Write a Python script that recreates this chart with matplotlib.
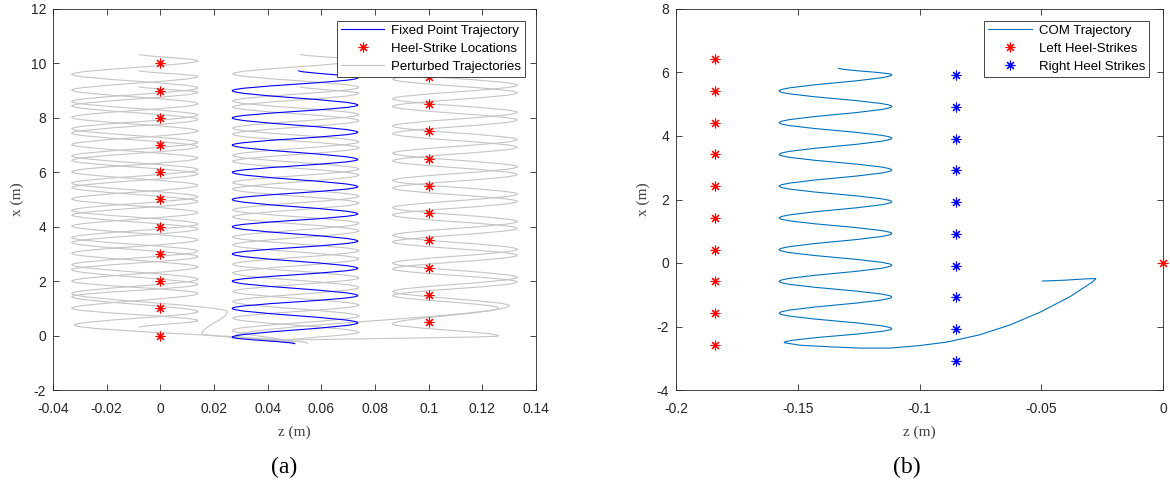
import matplotlib
matplotlib.use("Agg")
import matplotlib.pyplot as plt
from matplotlib.path import Path
from matplotlib.patches import PathPatch
from matplotlib.lines import Line2D

plt.rcParams['font.family'] = ['Liberation Sans', 'DejaVu Sans']
plt.rcParams['axes.unicode_minus'] = False

AX_COLOR = '#262626'
GRAY = '#c4c4c4'
COM_BLUE = '#0072BD'

# ---------------- panel (a): fixed point and perturbed gaits ----------------
heel_z = [0.0, 0.0, 0.0, 0.0, 0.0, 0.0, 0.0, 0.0, 0.0, 0.0, 0.0,
          0.1, 0.1, 0.1, 0.1, 0.1, 0.1, 0.1, 0.1, 0.1, 0.1]
heel_x = [0, 1, 2, 3, 4, 5, 6, 7, 8, 9, 10,
          0.5, 1.5, 2.5, 3.5, 4.5, 5.5, 6.5, 7.5, 8.5, 9.5]

# fixed point trajectory: sway extremes (z) and where they occur (x)
fp_z = [0.0502, 0.0268, 0.0736, 0.0268, 0.0736, 0.0268, 0.0736, 0.0268, 0.0736,
        0.0268, 0.0736, 0.0268, 0.0736, 0.0268, 0.0736, 0.0268, 0.0736, 0.0268,
        0.0736, 0.0268, 0.0736, 0.0514]
fp_x = [-0.31, -0.06, 0.47, 1.0, 1.47, 2.0, 2.47, 3.0, 3.47, 4.0, 4.47, 5.0, 5.47,
        6.0, 6.47, 7.0, 7.47, 8.0, 8.47, 9.0, 9.47, 9.74]

# perturbed trajectories (sway extremes)
pert1_z = [0.050, 0.0155, 0.025, -0.033, 0.014, -0.033, 0.014, -0.033, 0.014,
           -0.033, 0.014, -0.033, 0.014, -0.033, 0.014, -0.033, 0.014, -0.033,
           0.014, -0.033, 0.014, -0.008]
pert1_x = [-0.28, 0.07, 0.88, 1.55, 2.07, 2.6, 3.1, 3.6, 4.1, 4.6, 5.1, 5.6, 6.1,
           6.6, 7.1, 7.6, 8.1, 8.6, 9.1, 9.6, 10.1, 10.34]

pert2_z = [-0.008, 0.014, -0.033, 0.014, -0.033, 0.014, -0.033, 0.014, -0.033,
           0.014, -0.033, 0.014, -0.033, 0.014, -0.033, 0.014, -0.033, 0.014,
           -0.033, 0.014, -0.008]
pert2_x = [0.3, 0.55, 1.0, 1.55, 2.0, 2.52, 3.02, 3.52, 4.02, 4.52, 5.02, 5.52,
           6.02, 6.52, 7.02, 7.52, 8.02, 8.52, 9.02, 9.52, 9.74]

pert3_z = [0.055, -0.032, 0.014, -0.033, 0.014, -0.033, 0.014, -0.033, 0.014,
           -0.033, 0.014, -0.033, 0.014, -0.033, 0.014, -0.033, 0.014, -0.033,
           0.014, -0.008]
pert3_x = [-0.30, 0.39, 0.88, 1.43, 1.88, 2.42, 2.9, 3.42, 3.92, 4.43, 4.93, 5.44,
           5.94, 6.44, 6.94, 7.44, 7.94, 8.44, 8.94, 9.15]

pert4_z = [0.045, 0.074, 0.027, 0.074, 0.027, 0.074, 0.027, 0.074, 0.027, 0.074,
           0.027, 0.074, 0.027, 0.074, 0.027, 0.074, 0.027, 0.074, 0.027, 0.074,
           0.027, 0.074, 0.052]
pert4_x = [-0.22, 0.12, 0.64, 1.12, 1.62, 2.12, 2.62, 3.12, 3.62, 4.12, 4.62, 5.12,
           5.62, 6.12, 6.62, 7.12, 7.62, 8.12, 8.62, 9.12, 9.62, 10.12, 10.34]

pert5_z = [0.050, 0.027, 0.074, 0.027, 0.074, 0.027, 0.074, 0.027, 0.074, 0.027,
           0.074, 0.027, 0.074, 0.027, 0.074, 0.027, 0.074, 0.027, 0.074, 0.052]
pert5_x = [-0.28, 0.2, 0.72, 1.25, 1.77, 2.3, 2.82, 3.33, 3.85, 4.36, 4.87, 5.38,
           5.9, 6.4, 6.9, 7.4, 7.9, 8.4, 8.9, 9.15]

pert6_z = [0.040, 0.126, 0.0866, 0.126, 0.0866, 0.133, 0.0866, 0.133, 0.0866,
           0.133, 0.0866, 0.133, 0.0866, 0.133, 0.0866, 0.133, 0.0866, 0.133,
           0.0866, 0.133, 0.0866, 0.133, 0.110]
pert6_x = [-0.2, -0.015, 0.43, 1.02, 1.47, 1.97, 2.45, 2.95, 3.44, 3.94, 4.43, 4.93,
           5.42, 5.92, 6.42, 6.92, 7.42, 7.92, 8.42, 8.92, 9.42, 9.92, 10.15]

pert7_z = [0.050, 0.028, 0.130, 0.0866, 0.133, 0.0866, 0.133, 0.0866, 0.133,
           0.0866, 0.133, 0.0866, 0.133, 0.0866, 0.133, 0.0866, 0.133, 0.0866,
           0.133, 0.0866, 0.133, 0.110]
pert7_x = [-0.27, -0.02, 1.1, 1.62, 2.14, 2.66, 3.17, 3.68, 4.19, 4.7, 5.2, 5.7,
           6.2, 6.7, 7.2, 7.7, 8.2, 8.7, 9.2, 9.7, 10.2, 10.4]

a_xticks = [-0.04, -0.02, 0, 0.02, 0.04, 0.06, 0.08, 0.1, 0.12, 0.14]
a_xticklabels = ['-0.04', '-0.02', '0', '0.02', '0.04', '0.06', '0.08', '0.1',
                 '0.12', '0.14']
a_yticks = [-2, 0, 2, 4, 6, 8, 10, 12]

# ---------------- panel (b): centre of mass and heel strikes ----------------
left_hs_z = [-0.184, -0.184, -0.184, -0.184, -0.184, -0.184, -0.184, -0.184,
             -0.184, -0.184, 0.0]
left_hs_x = [6.42, 5.42, 4.42, 3.42, 2.42, 1.42, 0.42, -0.58, -1.58, -2.58, 0.0]
right_hs_z = [-0.085, -0.085, -0.085, -0.085, -0.085, -0.085, -0.085, -0.085,
              -0.085, -0.085]
right_hs_x = [5.92, 4.92, 3.92, 2.92, 1.92, 0.92, -0.08, -1.08, -2.08, -3.08]

# initial swing of the COM (traced point by point)
com_hook_z = [-0.0497, -0.040, -0.032, -0.0275, -0.0290, -0.0330, -0.0382,
              -0.0505, -0.0628, -0.0752, -0.0887, -0.0998, -0.1121, -0.1244,
              -0.1368, -0.1490, -0.1556]
com_hook_x = [-0.57, -0.54, -0.50, -0.49, -0.60, -0.80, -1.06, -1.55, -1.95,
              -2.26, -2.49, -2.60, -2.68, -2.68, -2.64, -2.59, -2.51]
# steady sway extremes afterwards
com_peak_z = [-0.1114, -0.1576, -0.1114, -0.1576, -0.1114, -0.1576, -0.1114,
              -0.1576, -0.1114, -0.1576, -0.1114, -0.1576, -0.1114, -0.1576,
              -0.1114, -0.1576, -0.1114, -0.1333]
com_peak_x = [-2.07, -1.58, -1.07, -0.58, -0.07, 0.42, 0.93, 1.42, 1.93, 2.42,
              2.93, 3.42, 3.93, 4.42, 4.93, 5.42, 5.93, 6.14]

b_xticks = [-0.2, -0.15, -0.1, -0.05, 0]
b_xticklabels = ['-0.2', '-0.15', '-0.1', '-0.05', '0']
b_yticks = [-4, -2, 0, 2, 4, 6, 8]


def sway_path(z, x, lead_z=None, lead_x=None):
    """Smooth path through sway extremes (horizontal tangent in z at each)."""
    verts, codes = [], []
    if lead_z is not None:
        verts.append((lead_z[0], lead_x[0]))
        codes.append(Path.MOVETO)
        for zz, xx in zip(lead_z[1:], lead_x[1:]):
            verts.append((zz, xx))
            codes.append(Path.LINETO)
        start = 0
        prev = (lead_z[-1], lead_x[-1])
    else:
        verts.append((z[0], x[0]))
        codes.append(Path.MOVETO)
        start = 1
        prev = (z[0], x[0])
    for zz, xx in zip(z[start:], x[start:]):
        d = xx - prev[1]
        verts += [(prev[0], prev[1] + d / 3.0), (zz, xx - d / 3.0), (zz, xx)]
        codes += [Path.CURVE4] * 3
        prev = (zz, xx)
    return Path(verts, codes)


def style_axes(ax):
    for s in ax.spines.values():
        s.set_color(AX_COLOR)
        s.set_linewidth(0.6)
    ax.tick_params(direction='in', top=True, right=True, length=4, width=0.6,
                   color=AX_COLOR, labelcolor=AX_COLOR, labelsize=10)
    ax.tick_params(axis='x', pad=8.5)
    ax.tick_params(axis='y', pad=5)


def make_legend(ax, handles, labels, anchor):
    leg = ax.legend(handles, labels, loc='upper right', bbox_to_anchor=anchor,
                    borderaxespad=0, fancybox=False, framealpha=1,
                    edgecolor=AX_COLOR, fontsize=9.5, handlelength=3.3,
                    handletextpad=0.5, labelspacing=0.42, borderpad=0.3)
    leg.get_frame().set_linewidth(0.6)
    leg.set_zorder(10)
    return leg


fig = plt.figure(figsize=(11.7, 4.96), dpi=100)
ax1 = fig.add_axes([53 / 1170, 1 - 390 / 496, 483 / 1170, 381 / 496])
ax2 = fig.add_axes([676 / 1170, 1 - 390 / 496, 487 / 1170, 381 / 496])

label_kw = dict(family='Liberation Serif', fontsize=11, color='#404040')

# panel (a)
for pz, px in [(pert1_z, pert1_x), (pert2_z, pert2_x), (pert3_z, pert3_x),
               (pert4_z, pert4_x), (pert5_z, pert5_x), (pert6_z, pert6_x),
               (pert7_z, pert7_x)]:
    ax1.add_patch(PathPatch(sway_path(pz, px), fill=False, edgecolor=GRAY,
                            lw=0.8, zorder=2))
ax1.add_patch(PathPatch(sway_path(fp_z, fp_x), fill=False, edgecolor='#0000ff',
                        lw=0.8, zorder=3))
ax1.plot(heel_z, heel_x, linestyle='none', marker=(8, 2, 0), color='#ff0000',
         markersize=7, markeredgewidth=0.8, zorder=4)

ax1.set_xlim(-0.04, 0.14)
ax1.set_ylim(-2, 12)
ax1.set_xticks(a_xticks)
ax1.set_xticklabels(a_xticklabels)
ax1.set_yticks(a_yticks)
style_axes(ax1)
ax1.set_xlabel('z (m)', labelpad=7, **label_kw)
ax1.set_ylabel('x (m)', labelpad=5, **label_kw)

h1 = [Line2D([], [], color='#0000ff', lw=0.8),
      Line2D([], [], linestyle='none', marker=(8, 2, 0), color='#ff0000',
             markersize=7, markeredgewidth=0.8),
      Line2D([], [], color=GRAY, lw=0.8)]
make_legend(ax1, h1, ['Fixed Point Trajectory', 'Heel-Strike Locations',
                      'Perturbed Trajectories'], (0.977, 0.969))

# panel (b)
ax2.add_patch(PathPatch(sway_path(com_peak_z, com_peak_x, com_hook_z, com_hook_x),
                        fill=False, edgecolor=COM_BLUE, lw=0.8, zorder=2))
ax2.plot(left_hs_z, left_hs_x, linestyle='none', marker=(8, 2, 0),
         color='#ff0000', markersize=7, markeredgewidth=0.8, zorder=4,
         clip_on=False)
ax2.plot(right_hs_z, right_hs_x, linestyle='none', marker=(8, 2, 0),
         color='#0000ff', markersize=7, markeredgewidth=0.8, zorder=4)

ax2.set_xlim(-0.2, 0)
ax2.set_ylim(-4, 8)
ax2.set_xticks(b_xticks)
ax2.set_xticklabels(b_xticklabels)
ax2.set_yticks(b_yticks)
style_axes(ax2)
ax2.set_xlabel('z (m)', labelpad=7, **label_kw)
ax2.set_ylabel('x (m)', labelpad=5, **label_kw)

h2 = [Line2D([], [], color=COM_BLUE, lw=0.8),
      Line2D([], [], linestyle='none', marker=(8, 2, 0), color='#ff0000',
             markersize=7, markeredgewidth=0.8),
      Line2D([], [], linestyle='none', marker=(8, 2, 0), color='#0000ff',
             markersize=7, markeredgewidth=0.8)]
make_legend(ax2, h2, ['COM Trajectory', 'Left Heel-Strikes', 'Right Heel Strikes'],
            (0.971, 0.969))

fig.text(284 / 1170, 1 - 467 / 496, '(a)', family='Liberation Serif',
         fontsize=17, ha='center', va='center', color='black')
fig.text(907 / 1170, 1 - 467 / 496, '(b)', family='Liberation Serif',
         fontsize=17, ha='center', va='center', color='black')

fig.savefig('out.png', dpi=100)
